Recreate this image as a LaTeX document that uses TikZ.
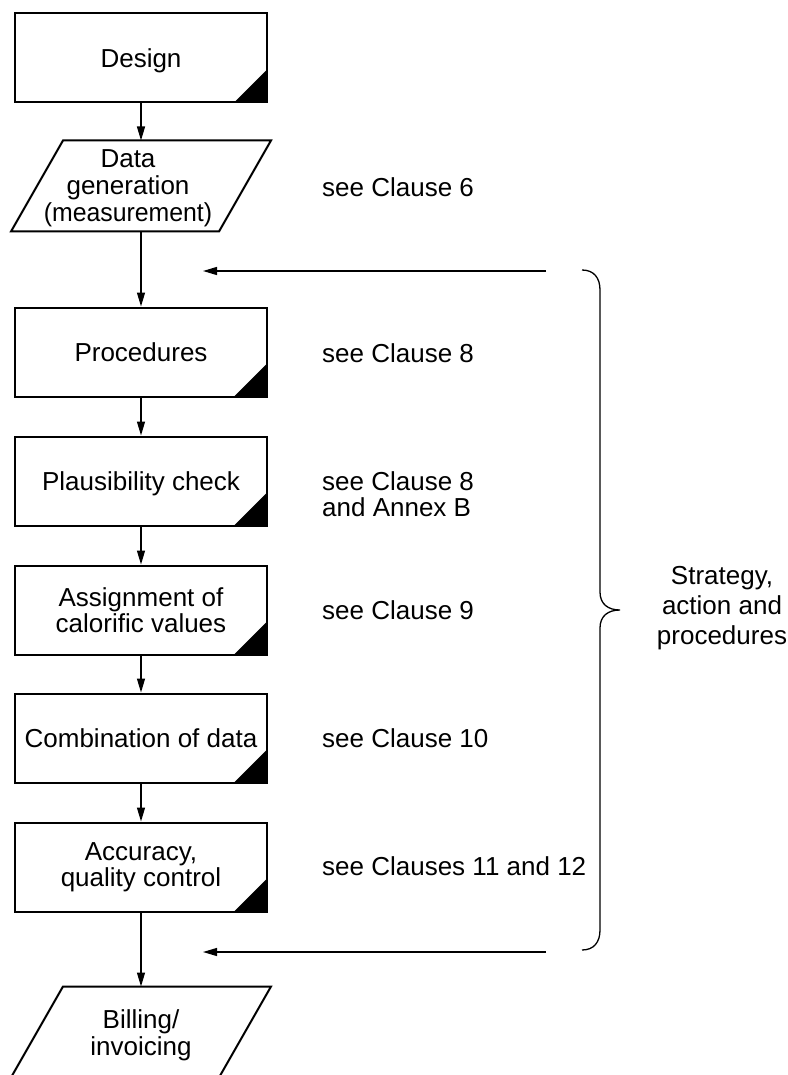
\documentclass[tikz,border=0pt]{standalone}
\usepackage{fontspec}
\setmainfont{Liberation Sans}
\usetikzlibrary{arrows.meta}
\newcommand{\lowered}[2]{\raisebox{-#1}[\height][\depth]{#2}}
\newcommand{\stack}[1]{\begin{tabular}{@{}c@{}}#1\end{tabular}}
\newcommand{\ioshape}[1]{\draw[ioline] ([xshift=-26pt]#1.south west) -- ([xshift=26pt]#1.north west) -- ([xshift=26pt]#1.north east) -- ([xshift=-26pt]#1.south east) -- cycle;}
\begin{document}
\begin{tikzpicture}[x=1pt,y=-1pt,
  txt/.style={font=\fontsize{26}{26.5}\selectfont, align=center},
  stepbox/.style={txt, draw, line width=2pt, minimum width=252pt, minimum height=89pt, inner sep=0pt,
    path picture={\fill (path picture bounding box.south east) -- ++(-33pt,0pt) -- ++(33pt,33pt) -- cycle;}},
  iobox/.style={txt, minimum width=206pt, minimum height=89pt, inner sep=0pt, outer sep=1pt},
  ioline/.style={line width=2pt, line join=miter},
  note/.style={font=\fontsize{26}{26.5}\selectfont, align=left, inner sep=0pt},
  arr/.style={line width=1.3pt, -{Triangle[length=14pt,width=8pt]}},
  bracestyle/.style={line width=1.3pt}
]
\useasboundingbox (0,0) rectangle (787,1075);
\clip (0,0) rectangle (787,1075);

\node[stepbox] (design) at (141,58) {\lowered{2.5pt}{Design}};
\node[iobox] (data) at (141,186) {\hspace*{-26pt}\lowered{3pt}{\stack{Data\\generation\\\scalebox{0.955}[1]{(measurement)}}}};
\ioshape{data}
\node[stepbox] (proc) at (141,352) {Procedures};
\node[stepbox] (plaus) at (141,481) {\lowered{2.5pt}{Plausibility check}};
\node[stepbox] (assign) at (141,610) {Assignment of\\calorific values};
\node[stepbox] (comb) at (141,738) {Combination of data};
\node[stepbox] (acc) at (141,867) {Accuracy,\\quality control};
\node[iobox] (bill) at (141,1032) {\lowered{4.5pt}{\stack{Billing/\\invoicing}}};
\ioshape{bill}

\draw[arr] (design) -- (data);
\draw[arr] (data) -- (proc);
\draw[arr] (proc) -- (plaus);
\draw[arr] (plaus) -- (assign);
\draw[arr] (assign) -- (comb);
\draw[arr] (comb) -- (acc);
\draw[arr] (acc) -- (bill);

\node[note, anchor=base west] (n6) at (322,197) {see Clause 6};
\node[note, anchor=base west] (n8) at (322,362) {see Clause 8};
\node[note, anchor=west] (n8b) at (322,494) {see Clause 8\\and Annex B};
\node[note, anchor=base west] (n9) at (322,619) {see Clause 9};
\node[note, anchor=base west] (n10) at (322,747) {see Clause 10};
\node[note, anchor=base west] (n11) at (322,875) {see Clauses 11 and 12};

\coordinate (fbAs) at (546,271);
\coordinate (fbAe) at (203,271);
\coordinate (fbBs) at (546,952);
\coordinate (fbBe) at (203,952);
\draw[arr] (fbAs) -- (fbAe);
\draw[arr] (fbBs) -- (fbBe);

\draw[bracestyle] (582,270) .. controls (594,270) and (600,278) .. (600,290) -- (600,592)
  .. controls (600,604) and (608,610) .. (620,610)
  .. controls (608,610) and (600,616) .. (600,628) -- (600,930)
  .. controls (600,942) and (594,950) .. (582,950);

\node[txt, font=\fontsize{26}{30}\selectfont] (strat) at (722,608) {Strategy,\\action and\\procedures};
\end{tikzpicture}
\end{document}
